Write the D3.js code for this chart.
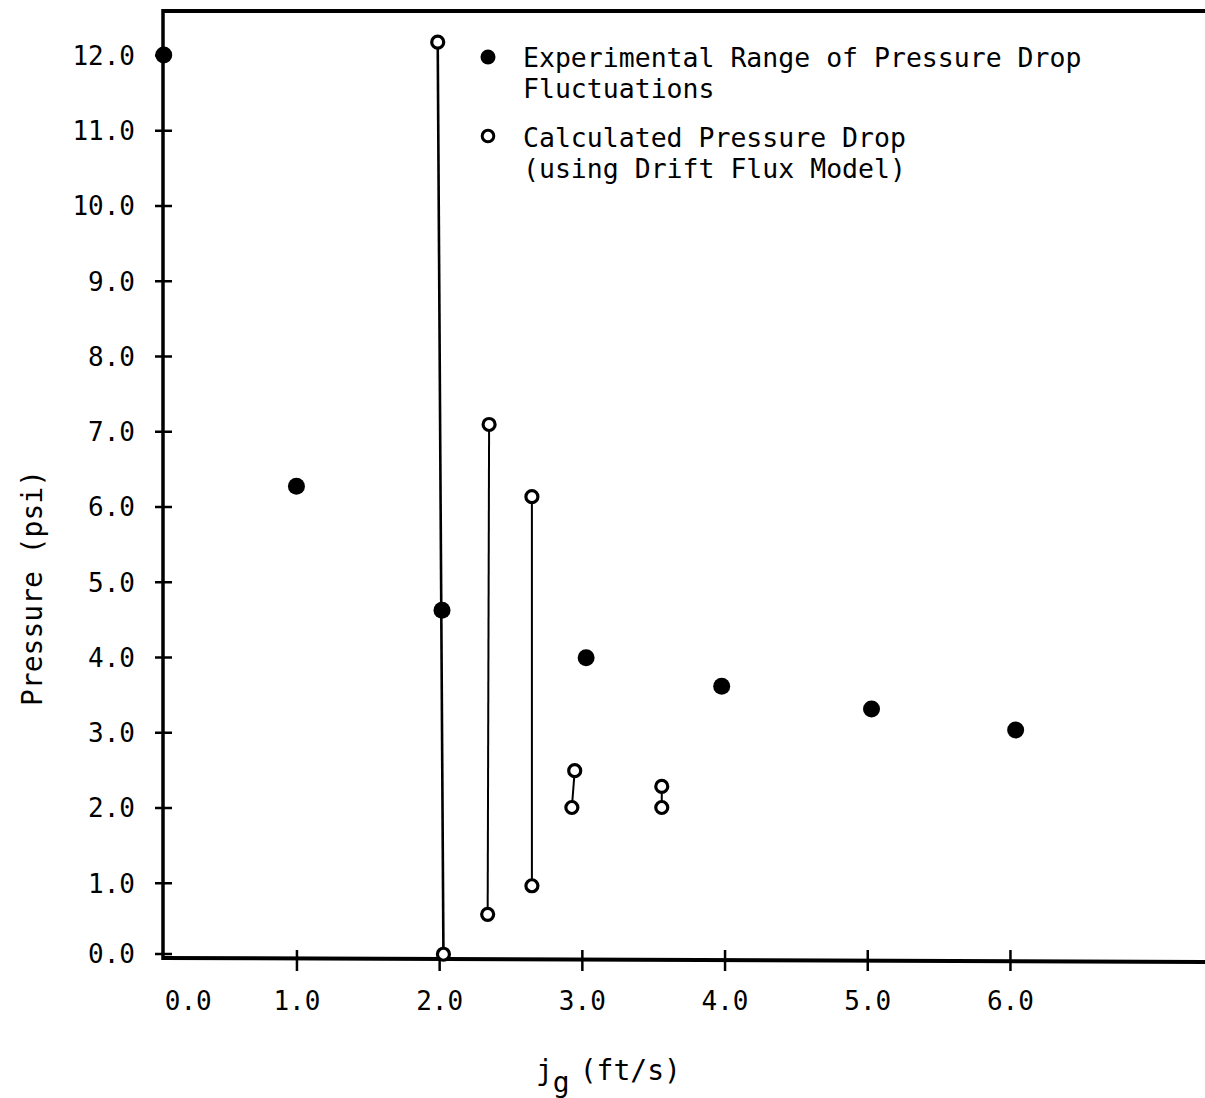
<!DOCTYPE html>
<html>
<head>
<meta charset="utf-8">
<script src="https://cdn.jsdelivr.net/npm/d3@7"></script>
<style>
  html, body { margin: 0; padding: 0; background: #fff; }
  svg { display: block; }
  text { font-family: "DejaVu Sans Mono", "Liberation Mono", monospace; fill: #000; }
</style>
</head>
<body>
<svg id="chart" width="1205" height="1098"></svg>
<script>
// ---- data ----
const xTickValues = [0, 1, 2, 3, 4, 5, 6];
const yTickValues = [0, 1, 2, 3, 4, 5, 6, 7, 8, 9, 10, 11, 12];

// Experimental range of pressure drop fluctuations (filled)
const expX = [0.07, 1.0, 2.02, 3.03, 3.98, 5.03, 6.04];
const expP = [12.0, 6.27, 4.62, 3.99, 3.61, 3.31, 3.03];

// Calculated pressure drop (open), high / low pairs joined by a line
const calcXHigh = [1.99, 2.35, 2.65, 2.95, 3.56];
const calcHigh  = [12.17, 7.09, 6.13, 2.49, 2.28];
const calcXLow  = [2.03, 2.34, 2.65, 2.93, 3.56];
const calcLow   = [0.05, 0.58, 0.96, 2.0, 2.0];

const legendLabels = [
  ["Experimental Range of Pressure Drop", "Fluctuations"],
  ["Calculated Pressure Drop", "(using Drift Flux Model)"]
];

// ---- layout ----
const svg = d3.select("#chart");
const x = d3.scaleLinear().domain([0, 7]).range([153.75, 153.75 + 7 * 142.7]);
const y = d3.scaleLinear().domain([0, 12]).range([958, 55]);
const axisX = 163, axisY = 958, topY = 11, rightX = 1205;

// frame lines
svg.append("line").attr("x1", axisX).attr("x2", rightX).attr("y1", topY).attr("y2", topY)
  .attr("stroke", "#000").attr("stroke-width", 4);
svg.append("line").attr("x1", axisX).attr("x2", axisX).attr("y1", topY - 2).attr("y2", axisY + 2)
  .attr("stroke", "#000").attr("stroke-width", 3.5);
svg.append("line").attr("x1", axisX - 1).attr("x2", rightX).attr("y1", axisY).attr("y2", axisY + 4)
  .attr("stroke", "#000").attr("stroke-width", 4);

// y axis
const yAxis = svg.append("g").attr("transform", `translate(${axisX},0)`)
  .call(d3.axisLeft(y).tickValues(yTickValues).tickFormat(d3.format(".1f")).tickSize(8).tickPadding(20));
yAxis.select(".domain").remove();
yAxis.selectAll(".tick line").attr("x1", -8).attr("x2", 9).attr("stroke", "#000").attr("stroke-width", 2.5);
yAxis.selectAll(".tick text").attr("font-size", 26).attr("x", -28).attr("dy", "0.36em")
  .style("font-family", "'DejaVu Sans Mono', monospace");
yAxis.selectAll(".tick").filter(d => d === 0).attr("transform", `translate(0,${y(0) - 4})`);

// x axis
const xAxis = svg.append("g").attr("transform", `translate(0,${axisY})`)
  .call(d3.axisBottom(x).tickValues(xTickValues).tickFormat(d3.format(".1f")).tickSize(12).tickPadding(28));
xAxis.select(".domain").remove();
xAxis.selectAll(".tick line").attr("y1", -8).attr("y2", 13).attr("stroke", "#000").attr("stroke-width", 2.5);
xAxis.selectAll(".tick text").attr("font-size", 26).attr("y", 52).attr("dy", 0)
  .style("font-family", "'DejaVu Sans Mono', monospace");
// the 0.0 label sits to the right of the axis corner in the original, with no tick mark
const zeroTick = xAxis.selectAll(".tick").filter(d => d === 0);
zeroTick.select("line").remove();
zeroTick.select("text").attr("x", 34);

// axis titles
const xt = svg.append("text").attr("x", 536).attr("y", 1080).attr("font-size", 28);
xt.append("tspan").text("j");
xt.append("tspan").attr("dy", 12).text("g");
xt.append("tspan").attr("dy", -12).attr("dx", 10).text("(ft/s)");

svg.append("text")
  .attr("transform", `translate(42,588) rotate(-90)`)
  .attr("text-anchor", "middle").attr("font-size", 28)
  .text("Pressure (psi)");

// calculated ranges: connecting lines
const pairs = calcHigh.map((h, i) => ({xh: calcXHigh[i], h, xl: calcXLow[i], l: calcLow[i]}));
svg.append("g").selectAll("line").data(pairs).join("line")
  .attr("x1", d => x(d.xh)).attr("y1", d => y(d.h))
  .attr("x2", d => x(d.xl)).attr("y2", d => y(d.l))
  .attr("stroke", "#000").attr("stroke-width", (d, i) => i === 0 ? 2.6 : 2);

// experimental (filled)
svg.append("g").selectAll("circle").data(expX.map((v, i) => [v, expP[i]])).join("circle")
  .attr("cx", d => x(d[0])).attr("cy", d => y(d[1])).attr("r", 8.5).attr("fill", "#000");

// calculated (open)
const openPts = pairs.flatMap(p => [[p.xh, p.h], [p.xl, p.l]]);
svg.append("g").selectAll("circle").data(openPts).join("circle")
  .attr("cx", d => x(d[0])).attr("cy", d => y(d[1])).attr("r", 6)
  .attr("fill", "#fff").attr("stroke", "#000").attr("stroke-width", 3.2);

// legend
const lg = svg.append("g");
lg.append("circle").attr("cx", 488).attr("cy", 57).attr("r", 7.5).attr("fill", "#000");
lg.append("circle").attr("cx", 488).attr("cy", 136).attr("r", 5.8)
  .attr("fill", "#fff").attr("stroke", "#000").attr("stroke-width", 3);
legendLabels.forEach((lines, i) => {
  const t = lg.append("text").attr("x", 523).attr("y", 67 + i * 80).attr("font-size", 26.5);
  lines.forEach((s, j) => t.append("tspan").attr("x", 523).attr("dy", j === 0 ? 0 : 31).text(s));
});
</script>
</body>
</html>
